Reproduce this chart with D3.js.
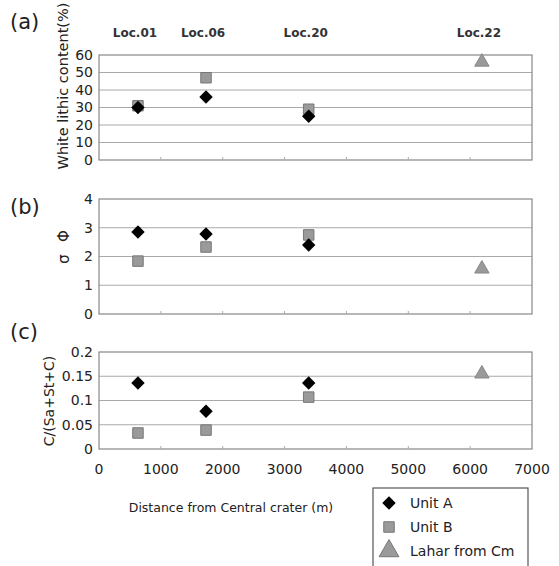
<!DOCTYPE html>
<html>
<head>
<meta charset="utf-8">
<script src="https://cdn.jsdelivr.net/npm/d3@7"></script>
<style>
  body { margin: 0; background: #fff; }
  text { font-family: "DejaVu Sans", "Noto Sans CJK JP", sans-serif; }
</style>
</head>
<body>
<div class="graphic"></div>
<script>
// Locations and distance from Central crater (m)
const locations = ["Loc.01", "Loc.06", "Loc.20", "Loc.22"];
const distance = [630, 1730, 3390, 6190];

// (a) white lithic content (%)
const lithicA = [30, 36, 25];
const lithicB = [31, 47, 29];
const lithicLahar = [56];

// (b) sigma phi
const sigmaA = [2.85, 2.78, 2.4];
const sigmaB = [1.84, 2.33, 2.75];
const sigmaLahar = [1.57];

// (c) C/(Sa+St+C)
const clayA = [0.136, 0.078, 0.136];
const clayB = [0.033, 0.039, 0.107];
const clayLahar = [0.155];

const xTicks = [0, 1000, 2000, 3000, 4000, 5000, 6000, 7000];

const svg = d3.select(".graphic")
  .append("svg")
  .attr("width", 559)
  .attr("height", 566);

const xScale = d3.scaleLinear().domain([0, 7000]).range([99, 532]);

const panels = [
  { tag: "(a)", tagY: 29, top: 55, bottom: 160, max: 60, step: 10, fmt: d => d,
    label: "White lithic content(%)", labelX: 63, labelY: 86, labelSize: 14.5,
    A: lithicA, B: lithicB, L: lithicLahar },
  { tag: "(b)", tagY: 214, top: 199, bottom: 314, max: 4, step: 1, fmt: d => d,
    label: "σ\u2002 Φ", labelX: 64, labelY: 247, labelSize: 15,
    A: sigmaA, B: sigmaB, L: sigmaLahar },
  { tag: "(c)", tagY: 339, top: 352, bottom: 449, max: 0.2, step: 0.05, fmt: d => +d.toFixed(2),
    label: "C/(Sa+St+C)", labelX: 49, labelY: 401, labelSize: 14,
    A: clayA, B: clayB, L: clayLahar }
];

const diamond = d3.symbol().type(d3.symbolDiamond2).size(115);
const square = d3.symbol().type(d3.symbolSquare).size(110);
const triangle = d3.symbol().type(d3.symbolTriangle).size(90);

panels.forEach(p => {
  const yScale = d3.scaleLinear().domain([0, p.max]).range([p.bottom, p.top]);
  const ticks = d3.range(0, p.max + p.step / 2, p.step);
  const g = svg.append("g");

  // gridlines
  g.selectAll(".grid")
    .data(ticks.slice(1, -1))
    .join("line")
      .attr("x1", xScale(0)).attr("x2", xScale(7000))
      .attr("y1", d => yScale(d)).attr("y2", d => yScale(d))
      .attr("stroke", "#aaa").attr("stroke-width", 1.2);

  // frame
  g.append("rect")
    .attr("x", xScale(0)).attr("y", yScale(p.max))
    .attr("width", xScale(7000) - xScale(0))
    .attr("height", yScale(0) - yScale(p.max))
    .attr("fill", "none").attr("stroke", "#888").attr("stroke-width", 1.2);

  // small x ticks inside
  g.selectAll(".xt")
    .data(xTicks.slice(1, -1))
    .join("line")
      .attr("x1", d => xScale(d)).attr("x2", d => xScale(d))
      .attr("y1", yScale(0)).attr("y2", yScale(0) - 3)
      .attr("stroke", "#aaa");

  // y tick labels
  g.selectAll(".yl")
    .data(ticks)
    .join("text")
      .attr("x", 93)
      .attr("y", d => yScale(d))
      .attr("dy", "0.35em")
      .attr("text-anchor", "end")
      .attr("font-size", 14)
      .attr("fill", "#222")
      .text(p.fmt);

  // panel tag
  g.append("text")
    .attr("x", 10).attr("y", p.tagY)
    .attr("font-size", 21).attr("fill", "#222")
    .text(p.tag);

  // y axis label
  g.append("text")
    .attr("transform", `translate(${p.labelX},${p.labelY}) rotate(-90)`)
    .attr("text-anchor", "middle")
    .attr("dy", "0.35em")
    .attr("font-size", p.labelSize).attr("fill", "#222")
    .text(p.label);

  // markers: B first then A on top, as in the picture
  g.selectAll(".b")
    .data(p.B)
    .join("path")
      .attr("d", square)
      .attr("transform", (d, i) => `translate(${xScale(distance[i])},${yScale(d)})`)
      .attr("fill", "#9a9a9a").attr("stroke", "#777");

  g.selectAll(".a")
    .data(p.A)
    .join("path")
      .attr("d", diamond)
      .attr("transform", (d, i) => `translate(${xScale(distance[i])},${yScale(d)})`)
      .attr("fill", "#000");

  g.selectAll(".l")
    .data(p.L)
    .join("path")
      .attr("d", triangle)
      .attr("transform", (d, i) => `translate(${xScale(distance[3 + i])},${yScale(d)})`)
      .attr("fill", "#9a9a9a").attr("stroke", "#888");
});

// location labels on top
svg.selectAll(".loc")
  .data(locations)
  .join("text")
    .attr("x", (d, i) => xScale(distance[i]) - 3)
    .attr("y", 37)
    .attr("text-anchor", "middle")
    .attr("font-size", 12).attr("font-weight", "bold")
    .attr("fill", "#333")
    .text(d => d);

// x tick labels of bottom panel
svg.selectAll(".xl")
  .data(xTicks)
  .join("text")
    .attr("x", d => xScale(d))
    .attr("y", 469)
    .attr("dy", "0.35em")
    .attr("text-anchor", "middle")
    .attr("font-size", 14).attr("fill", "#222")
    .text(d => d);

svg.append("text")
  .attr("x", 231).attr("y", 508)
  .attr("dy", "0.35em")
  .attr("text-anchor", "middle")
  .attr("font-size", 12.5).attr("fill", "#222")
  .text("Distance from Central crater (m)");

// legend
const legendItems = ["Unit A", "Unit B", "Lahar from Cm"];
const legendShapes = [diamond, square, d3.symbol().type(d3.symbolTriangle).size(170)];
const legendFill = ["#000", "#9a9a9a", "#9a9a9a"];
const legend = svg.append("g");
legend.append("rect")
  .attr("x", 373).attr("y", 488)
  .attr("width", 155).attr("height", 90)
  .attr("fill", "#fff").attr("stroke", "#555").attr("stroke-width", 1.2);
legend.selectAll(".li")
  .data(legendItems)
  .join("g")
    .attr("transform", (d, i) => `translate(389,${503 + i * 24})`)
    .each(function (d, i) {
      const it = d3.select(this);
      it.append("path")
        .attr("d", legendShapes[i])
        .attr("fill", legendFill[i])
        .attr("stroke", i === 0 ? "none" : "#777");
      it.append("text")
        .attr("x", 21).attr("dy", "0.35em")
        .attr("font-size", 14).attr("fill", "#222")
        .text(d);
    });
</script>
</body>
</html>
